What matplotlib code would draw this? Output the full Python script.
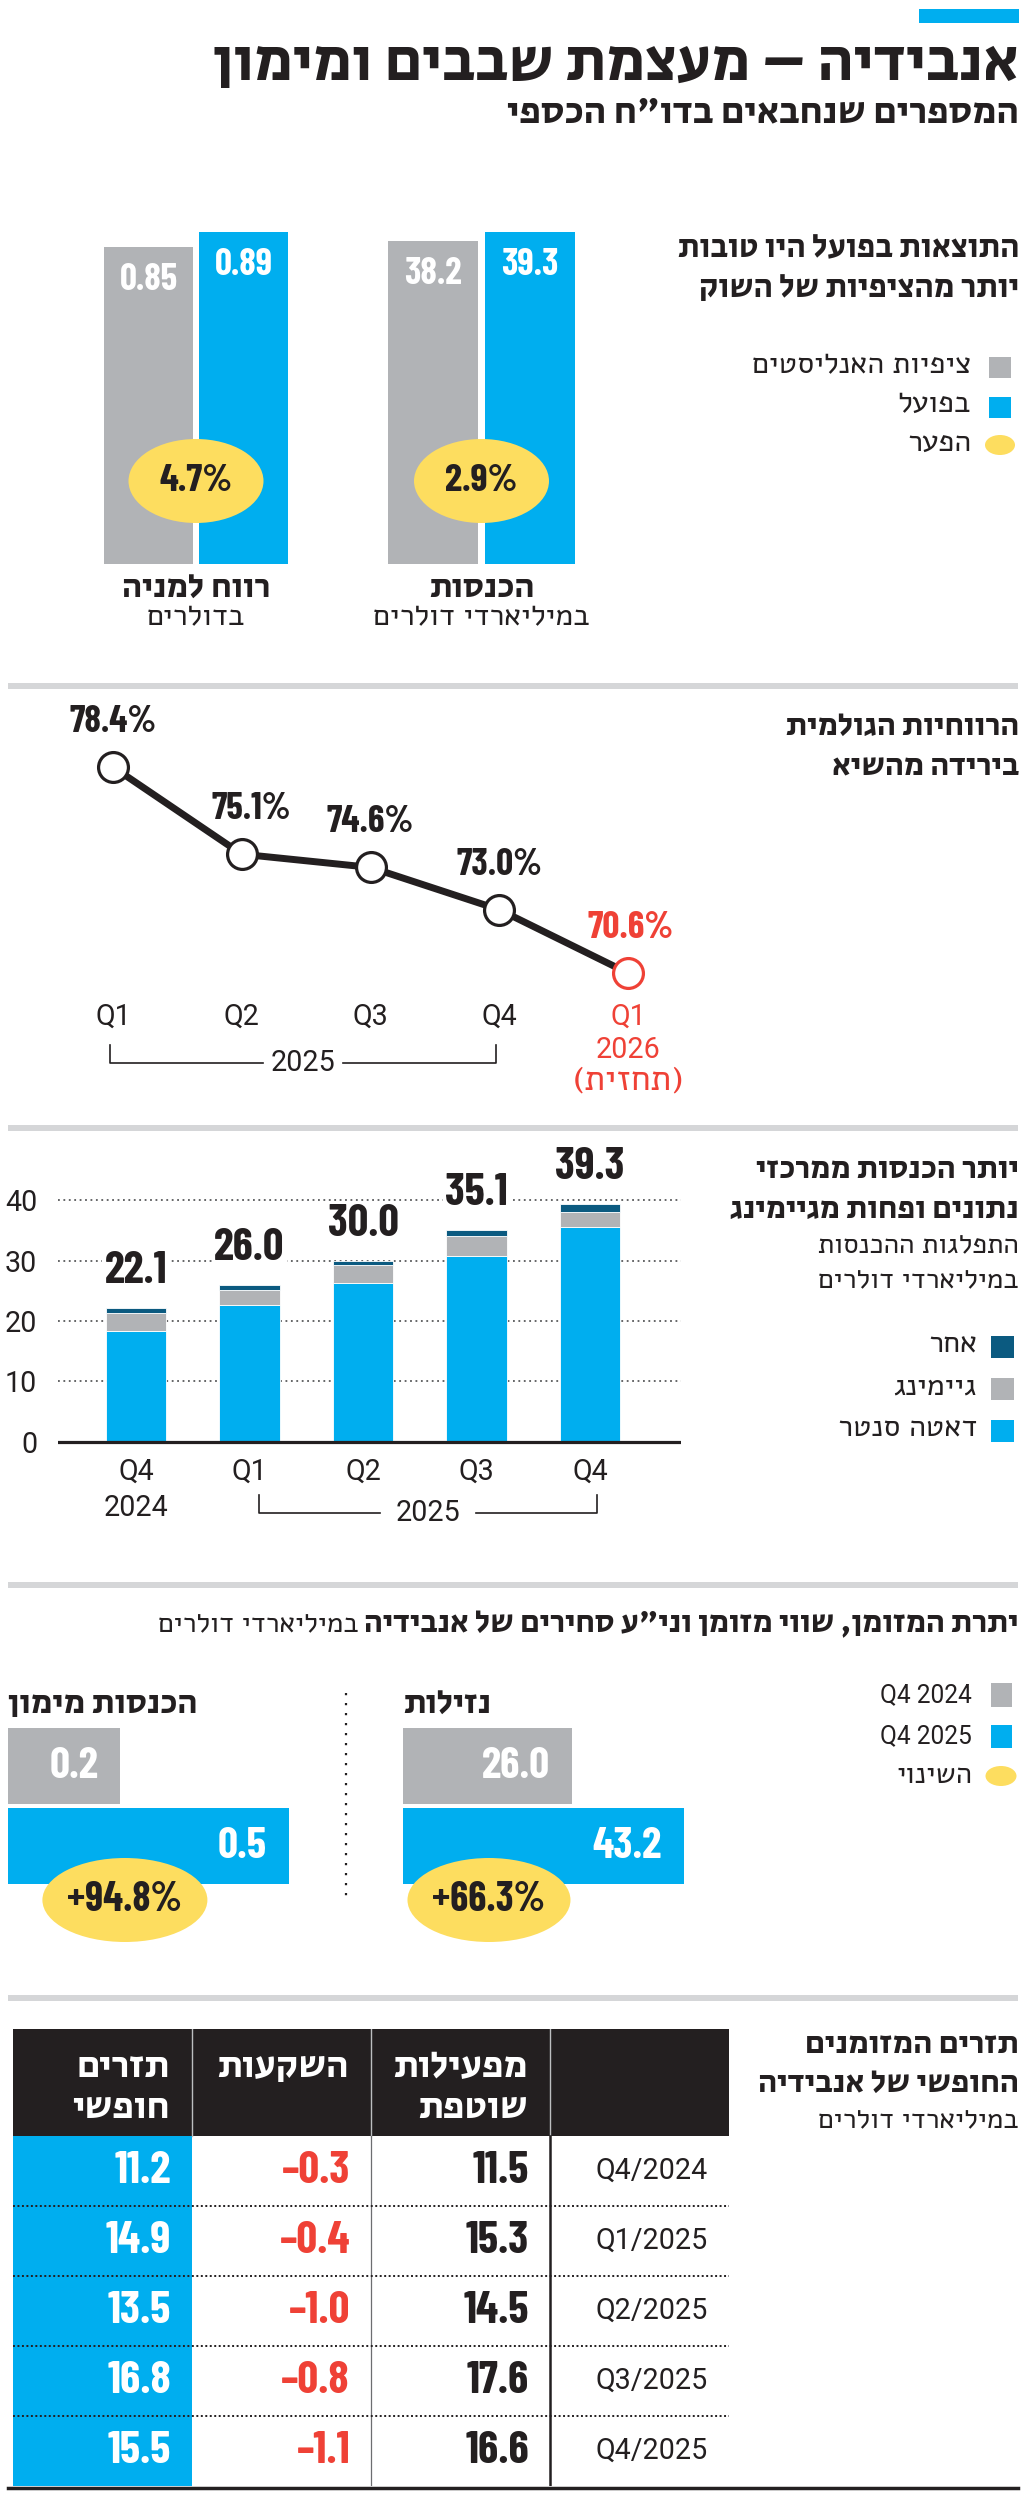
import matplotlib
matplotlib.use("Agg")
import matplotlib.pyplot as plt
from matplotlib import font_manager as fm
from matplotlib.font_manager import FontProperties
from matplotlib.patches import Rectangle, Ellipse
from matplotlib.textpath import TextPath
from matplotlib.transforms import blended_transform_factory as btf, offset_copy

W, H = 1024, 2498

# ---------------- data ----------------
beat_metrics = ["רווח למניה", "הכנסות"]
beat_units = ["בדולרים", "במיליארדי דולרים"]
beat_expected = [0.85, 38.2]
beat_actual = [0.89, 39.3]
beat_expected_labels = ["0.85", "38.2"]
beat_actual_labels = ["0.89", "39.3"]
beat_gap = ["4.7%", "2.9%"]

margin_quarters = ["Q1", "Q2", "Q3", "Q4", "Q1"]
margin_values = [78.4, 75.1, 74.6, 73.0, 70.6]
margin_labels = ["78.4%", "75.1%", "74.6%", "73.0%", "70.6%"]

seg_quarters = ["Q4", "Q1", "Q2", "Q3", "Q4"]
seg_datacenter = [18.4, 22.6, 26.3, 30.8, 35.6]
seg_gaming = [2.9, 2.6, 2.9, 3.3, 2.5]
seg_other = [0.8, 0.8, 0.8, 1.0, 1.2]
seg_total = [22.1, 26.0, 30.0, 35.1, 39.3]
seg_names = ["אחר", "גיימינג", "דאטה סנטר"]
seg_yticks = [0, 10, 20, 30, 40]

cash_panels = ["נזילות", "הכנסות מימון"]
cash_q4_2024 = [26.0, 0.2]
cash_q4_2025 = [43.2, 0.5]
cash_change = ["+66.3%", "+94.8%"]
cash_legend = ["Q4 2024", "Q4 2025", "השינוי"]

fcf_quarters = ["Q4/2024", "Q1/2025", "Q2/2025", "Q3/2025", "Q4/2025"]
fcf_operations = [11.5, 15.3, 14.5, 17.6, 16.6]
fcf_investments = [-0.3, -0.4, -1.0, -0.8, -1.1]
fcf_free = [11.2, 14.9, 13.5, 16.8, 15.5]
fcf_headers = [["תזרים", "חופשי"], ["השקעות"], ["מפעילות", "שוטפת"]]

# ---------------- style ----------------
BLUE = "#00AEEF"
GRAY = "#B1B3B6"
DARK = "#0B5A80"
YELLOW = "#FDDD5F"
RED = "#EF4136"
INK = "#231F20"
SEP = "#D5D6D8"

_w = {}
for f in fm.fontManager.ttflist:
    wt = f.weight if isinstance(f.weight, (int, float)) else (700 if str(f.weight) == "bold" else 400)
    _w.setdefault(f.name, set()).add(int(wt))


def pick(cands, bold=False):
    for c in cands:
        if c in _w and (not bold or max(_w[c]) >= 600):
            return c
    return "DejaVu Sans"


if "Secular One" in _w:
    HB = ("Secular One", "normal")
else:
    HB = (pick(["Alef", "Liberation Sans"], True), "bold")
HR = (pick(["Alef", "Liberation Sans", "DejaVu Sans"]), "normal")
NB = (pick(["Barlow Condensed", "PT Sans Narrow", "Roboto Condensed",
            "Liberation Sans Narrow", "Liberation Sans"], True), "bold")
LR = (pick(["Roboto", "Liberation Sans", "DejaVu Sans"]), "normal")
REG_BOOST = 1.1


def R(s):
    sw = {"(": ")", ")": "("}
    return "".join(sw.get(c, c) for c in reversed(s))


def fit(s, style, target):
    fp = FontProperties(family=style[0], weight=style[1])
    w = TextPath((0, 0), s, size=100, prop=fp).get_extents().width
    return 72.0 * target / w


def fitr(s, target):
    return fit(s, HR, target) * REG_BOOST


fig = plt.figure(figsize=(W / 100, H / 100), dpi=100)
ov = fig.add_axes([0, 0, 1, 1])
ov.set_xlim(0, W)
ov.set_ylim(H, 0)
ov.axis("off")


def px_rect(x0, y0, x1, y1):
    return [x0 / W, 1 - y1 / H, (x1 - x0) / W, (y1 - y0) / H]


def txt(x, y, s, style, size, ha="right", va="baseline", color=INK, ax=None, **kw):
    a = ax if ax is not None else ov
    return a.text(x, y, s, fontsize=size, family=[style[0], "DejaVu Sans"],
                  fontweight=style[1], ha=ha, va=va, color=color, **kw)


def xpx(ax, x):
    return ax.transData.transform((x, 0))[0]


def bracket(xl, xr, y_top, y_line, label, gap, size):
    mid = (xl + xr) / 2
    ov.plot([xl, xl, mid - gap], [y_top, y_line, y_line], color=INK, lw=1.2)
    ov.plot([mid + gap, xr, xr], [y_line, y_line, y_top], color=INK, lw=1.2)
    txt(mid, y_line, label, LR, size, ha="center", va="center")


# ---------------- header ----------------
ov.add_patch(Rectangle((919, 9), 100, 14, color=BLUE, lw=0))
t = R("אנבידיה – מעצמת שבבים ומימון")
txt(1019, 80, t, HB, fit(t, HB, 802))
t = R('המספרים שנחבאים בדו"ח הכספי')
txt(1019, 122, t, HB, fit(t, HB, 510))

for ysep in [683, 1125, 1582, 1995]:
    ov.add_patch(Rectangle((8, ysep), 1010, 6, color=SEP, lw=0))

# common sizes
S_LAT = fit("2025", LR, 62)
S_REG = fitr(R("במיליארדי דולרים"), 181)

# ---------------- section 1 ----------------
l1 = R("התוצאות בפועל היו טובות")
l2 = R("יותר מהציפיות של השוק")
s = fit(l1, HB, 339)
txt(1019, 257, l1, HB, s)
txt(1019, 297, l2, HB, s)

s_leg1 = fitr(R("ציפיות האנליסטים"), 197)
ov.add_patch(Rectangle((989, 357), 22, 21, color=GRAY, lw=0))
ov.add_patch(Rectangle((989, 397), 22, 21, color=BLUE, lw=0))
ov.add_patch(Ellipse((1000, 445), 30, 20, color=YELLOW, lw=0))
txt(971, 373, R("ציפיות האנליסטים"), HR, s_leg1)
txt(971, 412, R("בפועל"), HR, s_leg1)
txt(971, 452, R("הפער"), HR, s_leg1)

s_val1 = fit("38.2", NB, 56)
s_gap1 = fit("4.7%", NB, 71)
s_cat1 = fit(R("רווח למניה"), HB, 145)
bar_top, bar_bot = 232, 564
groups = [(101, 291), (385, 578)]
for i, (x0, x1) in enumerate(groups):
    ax = fig.add_axes(px_rect(x0, bar_top, x1, bar_bot))
    vals = [beat_expected[i], beat_actual[i]]
    labs = [beat_expected_labels[i], beat_actual_labels[i]]
    ax.set_xlim(-0.5, 1.5)
    ax.set_ylim(0, max(vals))
    ax.axis("off")
    ax.bar([0, 1], vals, width=0.93, color=[GRAY, BLUE], lw=0)
    for xx, v, lab in zip([0, 1], vals, labs):
        ax.annotate(lab, (xx, v), xytext=(0, -33), textcoords="offset pixels",
                    ha="center", va="center", color="white", fontsize=s_val1,
                    family=[NB[0], "DejaVu Sans"], fontweight=NB[1])
    ax.add_patch(Ellipse((0.5, 0.25), 135 / (x1 - x0), 84 / (bar_bot - bar_top),
                         transform=ax.transAxes, color=YELLOW, lw=0, clip_on=False, zorder=3))
    ax.text(0.5, 0.25, beat_gap[i], transform=ax.transAxes, ha="center", va="center",
            fontsize=s_gap1, family=[NB[0], "DejaVu Sans"], fontweight=NB[1], color=INK, zorder=4)
    cx = (x0 + x1) / 2
    txt(cx, 597, R(beat_metrics[i]), HB, s_cat1, ha="center")
    txt(cx, 625, R(beat_units[i]), HR, s_leg1, ha="center")

# ---------------- section 2 ----------------
l1 = R("הרווחיות הגולמית")
l2 = R("בירידה מהשיא")
s = fit(l1, HB, 231)
txt(1019, 735, l1, HB, s)
txt(1019, 775, l2, HB, s)

ax2 = fig.add_axes(px_rect(48.6, 720, 692.4, 1000))
ax2.set_xlim(-0.5, 4.5)
ax2.set_ylim(69.58, 80.18)
ax2.axis("off")
xs = list(range(len(margin_values)))
ax2.plot(xs, margin_values, color=INK, lw=5, zorder=2)
ax2.plot(xs[:-1], margin_values[:-1], "o", ms=21.5, mfc="white", mec=INK, mew=2.3, zorder=3)
ax2.plot(xs[-1:], margin_values[-1:], "o", ms=21.5, mfc="white", mec=RED, mew=2.3, zorder=3)
s_lab2 = fit("78.4%", NB, 85)
lab_dx = [0, 10, 0, 0, 3]
for i, (v, lab) in enumerate(zip(margin_values, margin_labels)):
    ax2.annotate(lab, (i, v), xytext=(lab_dx[i], 45), textcoords="offset pixels",
                 ha="center", va="center", fontsize=s_lab2, family=[NB[0], "DejaVu Sans"],
                 fontweight=NB[1], color=RED if i == len(margin_values) - 1 else INK)
tr2 = btf(ax2.transData, ov.transData)
for i, q in enumerate(margin_quarters):
    col = RED if i == len(margin_quarters) - 1 else INK
    txt(i, 1017, q, LR, S_LAT, ha="center", va="center", color=col, transform=tr2)
txt(4, 1050, "2026", LR, S_LAT, ha="center", va="center", color=RED, transform=tr2)
txt(4, 1081, R("(תחזית)"), HR, fitr(R("(תחזית)"), 97), ha="center", va="center",
    color=RED, transform=tr2)
bracket(xpx(ax2, 0) - 3, xpx(ax2, 3) - 3, 1045, 1063, "2025", 40, S_LAT)

# ---------------- section 3 ----------------
l1 = R("יותר הכנסות ממרכזי")
l2 = R("נתונים ופחות מגיימינג")
s = fit(l2, HB, 285)
txt(1019, 1178, l1, HB, s)
txt(1019, 1218, l2, HB, s)
txt(1019, 1253, R("התפלגות ההכנסות"), HR, S_REG)
txt(1019, 1288, R("במיליארדי דולרים"), HR, S_REG)

s_leg3 = fitr(R("דאטה סנטר"), 124)
for yy, c, name, base in zip([1336, 1378, 1420], [DARK, GRAY, BLUE], seg_names, [1353, 1395, 1437]):
    ov.add_patch(Rectangle((991, yy), 23, 22, color=c, lw=0))
    txt(977, base, R(name), HR, s_leg3)

ax3 = fig.add_axes(px_rect(58, 1194, 681, 1445))
ax3.set_ylim(-0.5, 41)
ax3.set_xlim(-0.687, 4.802)
xs3 = list(range(len(seg_total)))
ax3.bar(xs3, seg_datacenter, width=0.53, color=BLUE, edgecolor="white", lw=0.6, zorder=2)
ax3.bar(xs3, seg_gaming, bottom=seg_datacenter, width=0.53, color=GRAY, edgecolor="white", lw=0.6, zorder=2)
bot2 = [a + b for a, b in zip(seg_datacenter, seg_gaming)]
ax3.bar(xs3, seg_other, bottom=bot2, width=0.53, color=DARK, edgecolor="white", lw=0.6, zorder=2)
ax3.set_yticks(seg_yticks)
ax3.set_yticklabels([str(v) for v in seg_yticks], fontsize=S_LAT, family=[LR[0], "DejaVu Sans"], color=INK)
ax3.set_xticks([])
ax3.tick_params(axis="y", length=0, pad=15)
for sp in ax3.spines.values():
    sp.set_visible(False)
ax3.set_axisbelow(True)
ax3.grid(axis="y", linestyle=(0, (1, 2)), color="#58595B", lw=1.3)
ax3.axhline(0, color=INK, lw=2.3, zorder=3)
s_tot3 = fit("22.1", NB, 60)
for i, tot in enumerate(seg_total):
    top = bot2[i] + seg_other[i]
    ax3.annotate(f"{tot:.1f}", (i, top), xytext=(0, 37), textcoords="offset pixels",
                 ha="center", va="center", fontsize=s_tot3, family=[NB[0], "DejaVu Sans"],
                 fontweight=NB[1], color=INK, zorder=4,
                 bbox=dict(facecolor="white", edgecolor="none", pad=1.5))
tr3 = btf(ax3.transData, ov.transData)
for i, q in enumerate(seg_quarters):
    txt(i, 1472, q, LR, S_LAT, ha="center", va="center", transform=tr3)
txt(0, 1508, "2024", LR, S_LAT, ha="center", va="center", transform=tr3)
bracket(xpx(ax3, 1) + 10, xpx(ax3, 4) + 7, 1495, 1513, "2025", 48, S_LAT)

# ---------------- section 4 ----------------
tb = R('יתרת המזומן, שווי מזומן וני"ע סחירים של אנבידיה')
txt(1019, 1632, tb, HB, fit(tb, HB, 651))
txt(1019 - 651 - 9, 1632, R("במיליארדי דולרים"), HR, S_REG)

s_leg4 = fit("Q4 2024", LR, 90)
ov.add_patch(Rectangle((991, 1683), 21, 24, color=GRAY, lw=0))
ov.add_patch(Rectangle((991, 1725), 21, 23, color=BLUE, lw=0))
ov.add_patch(Ellipse((1001, 1776), 31, 20, color=YELLOW, lw=0))
txt(972, 1702, cash_legend[0], LR, s_leg4)
txt(972, 1743, cash_legend[1], LR, s_leg4)
txt(972, 1783, R(cash_legend[2]), HR, fitr(R(cash_legend[2]), 66))

s_pan4 = fit(R("הכנסות מימון"), HB, 187)
s_val4 = fit("43.2", NB, 68)
s_chg4 = fit("+66.3%", NB, 110)
panels_x = [(403, 684), (8, 289)]
ell_cx = [0.306, 0.416]
ell_w = [163, 165]
for i, (x0, x1) in enumerate(panels_x):
    ax = fig.add_axes(px_rect(x0, 1726, x1, 1886))
    vals = [cash_q4_2024[i], cash_q4_2025[i]]
    ax.set_xlim(0, max(vals))
    ax.set_ylim(-0.5, 1.5)
    ax.axis("off")
    ax.barh([1, 0], vals, height=0.96, color=[GRAY, BLUE], lw=0)
    for yy, v in zip([1, 0], vals):
        ax.annotate(f"{v:.1f}", (v, yy), xytext=(-22, 0), textcoords="offset pixels",
                    ha="right", va="center", color="white", fontsize=s_val4,
                    family=[NB[0], "DejaVu Sans"], fontweight=NB[1])
    ax.add_patch(Ellipse((ell_cx[i], -0.0875), ell_w[i] / (x1 - x0), 84 / 160,
                         transform=ax.transAxes, color=YELLOW, lw=0, clip_on=False, zorder=3))
    ax.text(ell_cx[i], -0.0875, cash_change[i], transform=ax.transAxes, ha="center", va="center",
            fontsize=s_chg4, family=[NB[0], "DejaVu Sans"], fontweight=NB[1], color=INK, zorder=4,
            clip_on=False)
    txt(x0, 1713, R(cash_panels[i]), HB, s_pan4, ha="left")
ov.plot([346, 346], [1693, 1903], color=INK, lw=1.6, ls=(0, (1, 3.5)))

# ---------------- section 5 ----------------
l1 = R("תזרים המזומנים")
l2 = R("החופשי של אנבידיה")
s = fit(l2, HB, 257)
txt(1019, 2053, l1, HB, s)
txt(1019, 2092, l2, HB, s)
txt(1019, 2128, R("במיליארדי דולרים"), HR, S_REG)

ax5 = fig.add_axes(px_rect(13, 2029, 729, 2486))
hh = 107 / 70
nrows = len(fcf_quarters)
ax5.set_xlim(0, 4)
ax5.set_ylim(nrows, -hh)
ax5.axis("off")
ax5.add_patch(Rectangle((0, -hh), 4, hh, color=INK, lw=0))
for c in (1, 2, 3):
    ax5.plot([c, c], [-hh, 0], color="#BCBEC0", lw=1.0)
ax5.add_patch(Rectangle((0, 0), 1, nrows, color=BLUE, lw=0))
ax5.plot([2, 2], [0, nrows], color="#6D6E71", lw=0.9)
ax5.plot([3, 3], [0, nrows], color=INK, lw=1.8)
for r in range(1, nrows):
    ax5.plot([0, 4], [r, r], color=INK, lw=1.4, ls=(0, (1, 1.3)))

s_hdr5 = fit(R("השקעות"), HB, 109) * 1.18
tr5 = btf(ax5.transData, ov.transData)
hdr_tr = offset_copy(tr5, fig=fig, x=-22, y=0, units="dots")
for c, lines in enumerate(fcf_headers):
    for k, line in enumerate(lines):
        txt(c + 1, [2077, 2118][k], R(line), HB, s_hdr5, color="white", ax=ax5,
            transform=hdr_tr, zorder=5)

s_val5 = fit("11.5", NB, 55)
s_q5 = fit("Q4/2024", LR, 110)
cols = [(fcf_free, "white"), (fcf_investments, RED), (fcf_operations, INK)]
off5 = offset_copy(ax5.transData, fig=fig, x=-21, y=0, units="dots")


def fmt(v):
    return ("\u2013" if v < 0 else "") + f"{abs(v):.1f}"


for r in range(nrows):
    for c, (vals, colr) in enumerate(cols):
        ax5.text(c + 1, r + 0.5, fmt(vals[r]), transform=off5, ha="right", va="center",
                 fontsize=s_val5, family=[NB[0], "DejaVu Sans"], fontweight=NB[1], color=colr)
    ax5.text(4, r + 0.5, fcf_quarters[r], transform=off5, ha="right", va="center",
             fontsize=s_q5, family=[LR[0], "DejaVu Sans"], color=INK)

ov.plot([8, 1018], [2488, 2488], color=INK, lw=2.5)

fig.savefig("out.png", dpi=100)
